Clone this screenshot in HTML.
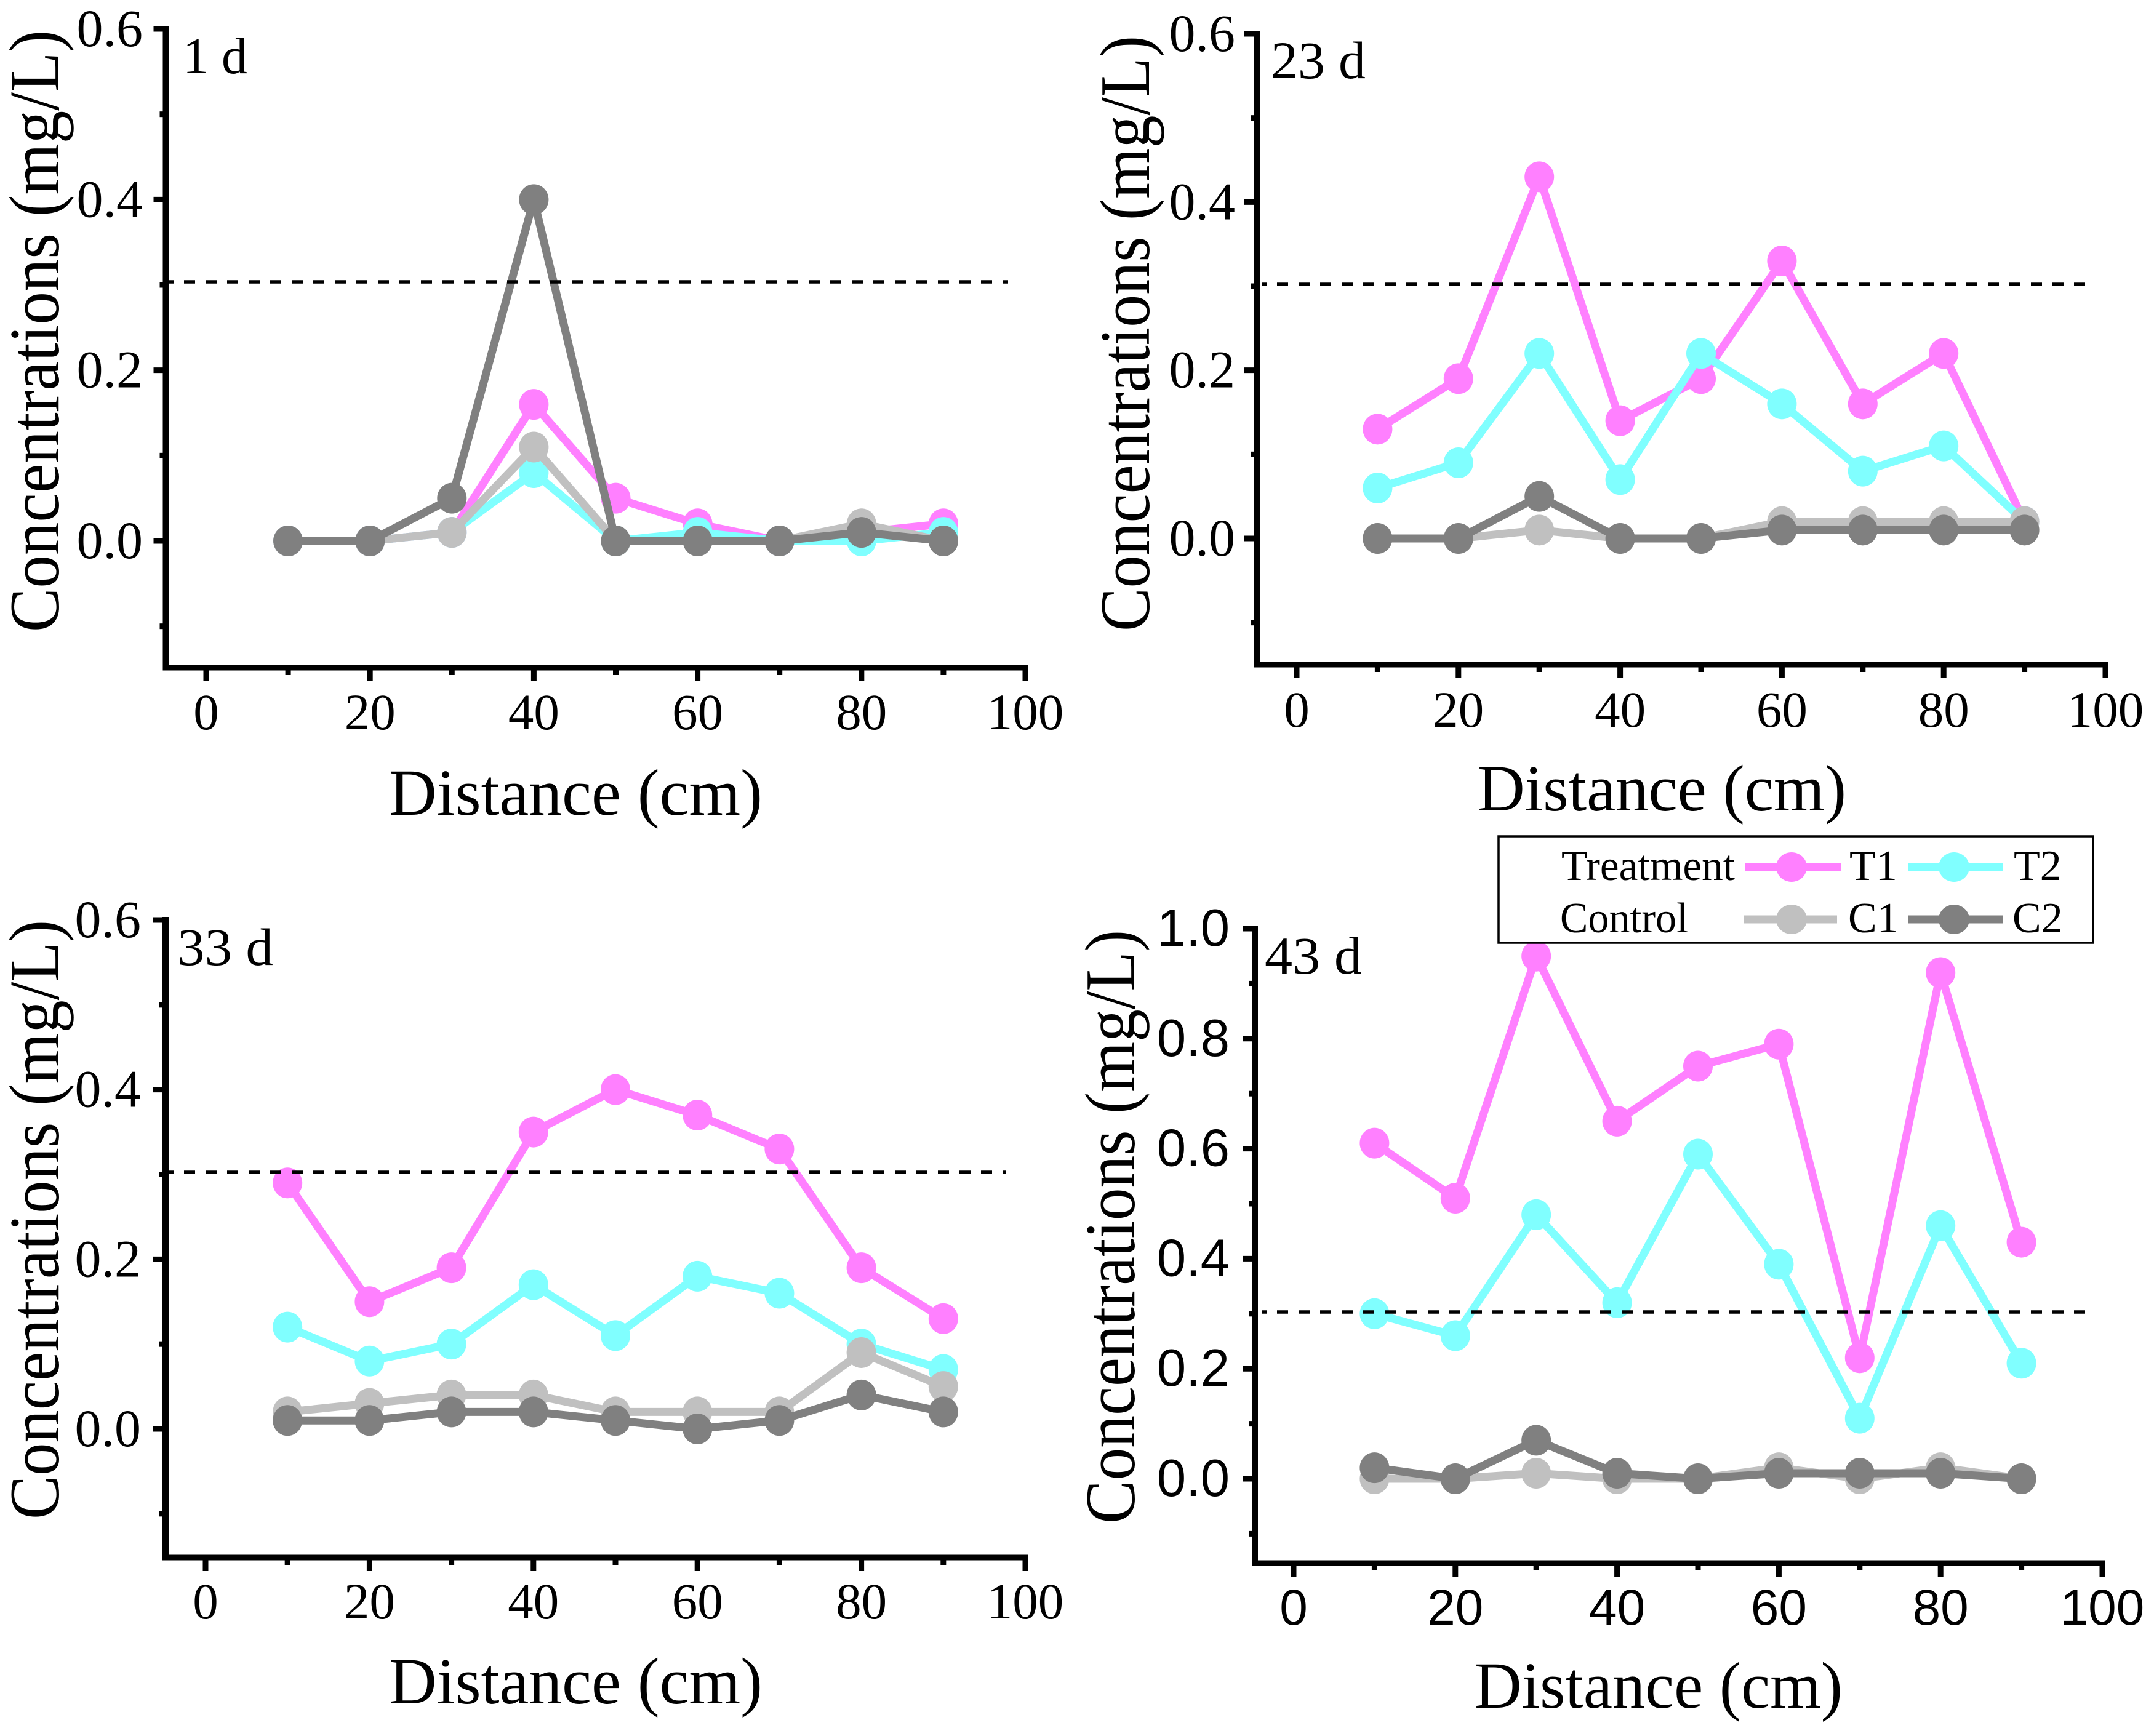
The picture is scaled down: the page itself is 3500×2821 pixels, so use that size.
<!DOCTYPE html>
<html lang="en">
<head>
<meta charset="utf-8">
<title>Concentrations versus distance at 1, 23, 33 and 43 days</title>
<style>
html,body{margin:0;padding:0;background:#fff;}
svg{display:block;}
</style>
</head>
<body>
<svg id="figure" xmlns="http://www.w3.org/2000/svg" width="3500" height="2821" viewBox="0 0 3500 2821">
<rect width="3500" height="2821" fill="#fff"/>
<g id="panels"></g>
<g id="legend">
<rect x="2435" y="1359" width="966" height="173" fill="#fff" stroke="#000" stroke-width="3.5"/>
<text x="2537" y="1430" font-family="'Liberation Serif',serif" font-size="70" textLength="282" lengthAdjust="spacingAndGlyphs">Treatment</text>
<text x="2535" y="1515" font-family="'Liberation Serif',serif" font-size="70" textLength="208" lengthAdjust="spacingAndGlyphs">Control</text>
<g>
<line x1="2835" y1="1409" x2="2991" y2="1409" stroke="#ff80ff" stroke-width="13"/>
<ellipse cx="2911" cy="1409" rx="25" ry="24" fill="#ff80ff"/>
<text x="3005" y="1430" font-family="'Liberation Serif',serif" font-size="70">T1</text>
</g>
<g>
<line x1="3100" y1="1409" x2="3254" y2="1409" stroke="#80ffff" stroke-width="13"/>
<ellipse cx="3175" cy="1409" rx="25" ry="24" fill="#80ffff"/>
<text x="3272" y="1430" font-family="'Liberation Serif',serif" font-size="70">T2</text>
</g>
<g>
<line x1="2833" y1="1494" x2="2985" y2="1494" stroke="#c0c0c0" stroke-width="13"/>
<ellipse cx="2911" cy="1494" rx="25" ry="24" fill="#c0c0c0"/>
<text x="3003" y="1515" font-family="'Liberation Serif',serif" font-size="70">C1</text>
</g>
<g>
<line x1="3100" y1="1494" x2="3254" y2="1494" stroke="#808080" stroke-width="13"/>
<ellipse cx="3175" cy="1494" rx="25" ry="24" fill="#808080"/>
<text x="3270" y="1515" font-family="'Liberation Serif',serif" font-size="70">C2</text>
</g>
</g>
</svg>
<script>
// ---- chart data ----
const distances = [10, 20, 30, 40, 50, 60, 70, 80, 90];

const day1T1 = [0, 0, 0.01, 0.16, 0.05, 0.02, 0, 0.01, 0.02];
const day1T2 = [0, 0, 0.01, 0.08, 0, 0.01, 0, 0, 0.01];
const day1C1 = [0, 0, 0.01, 0.11, 0, 0, 0, 0.02, 0];
const day1C2 = [0, 0, 0.05, 0.40, 0, 0, 0, 0.01, 0];

const day23T1 = [0.13, 0.19, 0.43, 0.14, 0.19, 0.33, 0.16, 0.22, 0.02];
const day23T2 = [0.06, 0.09, 0.22, 0.07, 0.22, 0.16, 0.08, 0.11, 0.02];
const day23C1 = [0, 0, 0.01, 0, 0, 0.02, 0.02, 0.02, 0.02];
const day23C2 = [0, 0, 0.05, 0, 0, 0.01, 0.01, 0.01, 0.01];

const day33T1 = [0.29, 0.15, 0.19, 0.35, 0.40, 0.37, 0.33, 0.19, 0.13];
const day33T2 = [0.12, 0.08, 0.10, 0.17, 0.11, 0.18, 0.16, 0.10, 0.07];
const day33C1 = [0.02, 0.03, 0.04, 0.04, 0.02, 0.02, 0.02, 0.09, 0.05];
const day33C2 = [0.01, 0.01, 0.02, 0.02, 0.01, 0, 0.01, 0.04, 0.02];

const day43T1 = [0.61, 0.51, 0.95, 0.65, 0.75, 0.79, 0.22, 0.92, 0.43];
const day43T2 = [0.30, 0.26, 0.48, 0.32, 0.59, 0.39, 0.11, 0.46, 0.21];
const day43C1 = [0, 0, 0.01, 0, 0, 0.02, 0, 0.02, 0];
const day43C2 = [0.02, 0, 0.07, 0.01, 0, 0.01, 0.01, 0.01, 0];

const xMajorTicks = [0, 20, 40, 60, 80, 100];
const xMinorTicks = [10, 30, 50, 70, 90];
const yMajorTicksShort = [0, 0.2, 0.4, 0.6];
const yMinorTicksShort = [-0.1, 0.1, 0.3, 0.5];
const yMajorTicksTall = [0, 0.2, 0.4, 0.6, 0.8, 1.0];
const yMinorTicksTall = [-0.1, 0.1, 0.3, 0.5, 0.7, 0.9];
const thresholdValue = [0.3];
const seriesNames = ['t1', 't2', 'c1', 'c2'];
const seriesColors = ['#ff80ff', '#80ffff', '#c0c0c0', '#808080'];

// ---- panel layout ----
const panels = [
  {id: 'day-1', label: '1 d', series: [day1T1, day1T2, day1C1, day1C2], yMajor: yMajorTicksShort, yMinor: yMinorTicksShort, yTop: 0.6,
   x0: 335, x100: 1666, yZero: 879, yTopPx: 47, axisX: 269.5, axisY: 1085, yLabelRight: 232, xLabelY: 1185, tickFont: 'Liberation Serif', tickSize: 83,
   titleX: 95, titleBottom: 1027, titleTop: 49, xTitleX: 632, xTitleW: 607, xTitleY: 1324,
   dashY: 458, dashOffset: 1.6, dashFrom: 264, dashTo: 1638, labelX: 297, labelY: 119, labelSize: 84, labelW: 105},
  {id: 'day-23', label: '23 d', series: [day23T1, day23T2, day23C1, day23C2], yMajor: yMajorTicksShort, yMinor: yMinorTicksShort, yTop: 0.6,
   x0: 2107, x100: 3421, yZero: 875, yTopPx: 55, axisX: 2042, axisY: 1080, yLabelRight: 2007, xLabelY: 1181, tickFont: 'Liberation Serif', tickSize: 83,
   titleX: 1867, titleBottom: 1026, titleTop: 58, xTitleX: 2401, xTitleW: 599, xTitleY: 1317,
   dashY: 462, dashFrom: 2040, dashTo: 3390, labelX: 2065, labelY: 127, labelSize: 86, labelW: 154},
  {id: 'day-33', label: '33 d', series: [day33T1, day33T2, day33C1, day33C2], yMajor: yMajorTicksShort, yMinor: yMinorTicksShort, yTop: 0.6,
   x0: 334, x100: 1666, yZero: 2322, yTopPx: 1495, axisX: 269, axisY: 2531, yLabelRight: 229, xLabelY: 2630, tickFont: 'Liberation Serif', tickSize: 83,
   titleX: 95, titleBottom: 2469, titleTop: 1495, xTitleX: 632, xTitleW: 607, xTitleY: 2768,
   dashY: 1905, dashFrom: 264, dashTo: 1635, labelX: 288, labelY: 1568, labelSize: 86, labelW: 156},
  {id: 'day-43', label: '43 d', series: [day43T1, day43T2, day43C1, day43C2], yMajor: yMajorTicksTall, yMinor: yMinorTicksTall, yTop: 1.0,
   x0: 2102, x100: 3416, yZero: 2403, yTopPx: 1509, axisX: 2039, axisY: 2540, yLabelRight: 1998, xLabelY: 2640, tickFont: 'Liberation Sans', tickSize: 82,
   titleX: 1843, titleBottom: 2476, titleTop: 1511, xTitleX: 2396, xTitleW: 598, xTitleY: 2775,
   dashY: 2132, dashFrom: 2040, dashTo: 3388, labelX: 2055, labelY: 1582, labelSize: 86, labelW: 158}
];

const SVG_NS = 'http://www.w3.org/2000/svg';
const root = document.getElementById('panels');

function make(tag, attrs, parent) {
  const el = document.createElementNS(SVG_NS, tag);
  for (const k in attrs) el.setAttribute(k, attrs[k]);
  parent.appendChild(el);
  return el;
}

function xScale(p, v) { return p.x0 + v * (p.x100 - p.x0) / 100; }
function yScale(p, v) { return p.yZero - v * (p.yZero - p.yTopPx) / p.yTop; }

function drawAxes(p, g) {
  const xRight = xScale(p, 100);
  const topY = yScale(p, p.yTop);

  const yAxis = make('line', {x1: p.axisX, y1: topY - 5, x2: p.axisX, y2: p.axisY + 4, stroke: '#000', 'stroke-width': 10}, g);
  
  

  const xAxis = make('line', {x1: p.axisX - 5, y1: p.axisY, x2: xRight + 5, y2: p.axisY, stroke: '#000', 'stroke-width': 9}, g);
  
  

  xMajorTicks.forEach(function (v) {
    const t = make('line', {x1: xScale(p, v), y1: p.axisY, x2: xScale(p, v), y2: p.axisY + 22, stroke: '#000', 'stroke-width': 9}, g);
    
    

    const lab = make('text', {x: xScale(p, v), y: p.xLabelY, 'text-anchor': 'middle', 'font-family': "'" + p.tickFont + "',sans-serif", 'font-size': p.tickSize}, g);
    lab.textContent = String(v);
    
    
  });

  xMinorTicks.forEach(function (v) {
    const t = make('line', {x1: xScale(p, v), y1: p.axisY, x2: xScale(p, v), y2: p.axisY + 12, stroke: '#000', 'stroke-width': 9}, g);
    
    
  });

  p.yMajor.forEach(function (v) {
    const t = make('line', {x1: p.axisX - 20, y1: yScale(p, v), x2: p.axisX, y2: yScale(p, v), stroke: '#000', 'stroke-width': 9}, g);
    
    

    const lab = make('text', {x: p.yLabelRight, y: yScale(p, v) + 28, 'text-anchor': 'end', 'font-family': "'" + p.tickFont + "',sans-serif", 'font-size': p.tickSize + 3}, g);
    lab.textContent = v.toFixed(1);
    
    
  });

  p.yMinor.forEach(function (v) {
    const t = make('line', {x1: p.axisX - 10, y1: yScale(p, v), x2: p.axisX, y2: yScale(p, v), stroke: '#000', 'stroke-width': 9}, g);
    
    
  });

  const xTitle = make('text', {x: p.xTitleX, y: p.xTitleY, 'font-family': "'Liberation Serif',serif", 'font-size': 107, textLength: p.xTitleW, lengthAdjust: 'spacingAndGlyphs'}, g);
  xTitle.textContent = 'Distance (cm)';
  
  

  const yTitle = make('text', {transform: 'translate(' + p.titleX + ',' + p.titleBottom + ') rotate(-90)', 'font-family': "'Liberation Serif',serif", 'font-size': 116, textLength: p.titleBottom - p.titleTop, lengthAdjust: 'spacingAndGlyphs'}, g);
  yTitle.textContent = 'Concentrations (mg/L)';
  
  
}

function drawSeries(p, g) {
  p.series.forEach(function (values, si) {
    const s = make('g', {}, g);
    
    

    const pts = values.map(function (v, i) { return xScale(p, distances[i]) + ',' + yScale(p, v); }).join(' ');
    const line = make('polyline', {points: pts, fill: 'none', stroke: seriesColors[si], 'stroke-width': 13, 'stroke-linejoin': 'round'}, s);
    
    

    values.forEach(function (v, i) {
      const c = make('ellipse', {cx: xScale(p, distances[i]), cy: yScale(p, v), rx: 24, ry: 25, fill: seriesColors[si]}, s);
      
      
    });
  });
}

function drawPanel(p) {
  const g = make('g', {}, root);
  
  

  const axes = make('g', {}, g);
  
  
  drawAxes(p, axes);

  const plot = make('g', {}, g);
  
  
  drawSeries(p, plot);

  const dashPx = yScale(p, thresholdValue[0]) + (p.dashY - yScale(p, 0.3));
  const dash = make('line', {x1: p.dashFrom + 10, y1: dashPx, x2: p.dashTo, y2: dashPx, stroke: '#000', 'stroke-width': 5.5, 'stroke-dasharray': '18 17', 'stroke-dashoffset': 10}, g);
  
  

  const lab = make('text', {x: p.labelX, y: p.labelY, 'font-family': "'Liberation Serif',serif", 'font-size': p.labelSize, textLength: p.labelW, lengthAdjust: 'spacingAndGlyphs'}, g);
  lab.textContent = p.label;
  
  
}

panels.forEach(drawPanel);
</script>
</body>
</html>
